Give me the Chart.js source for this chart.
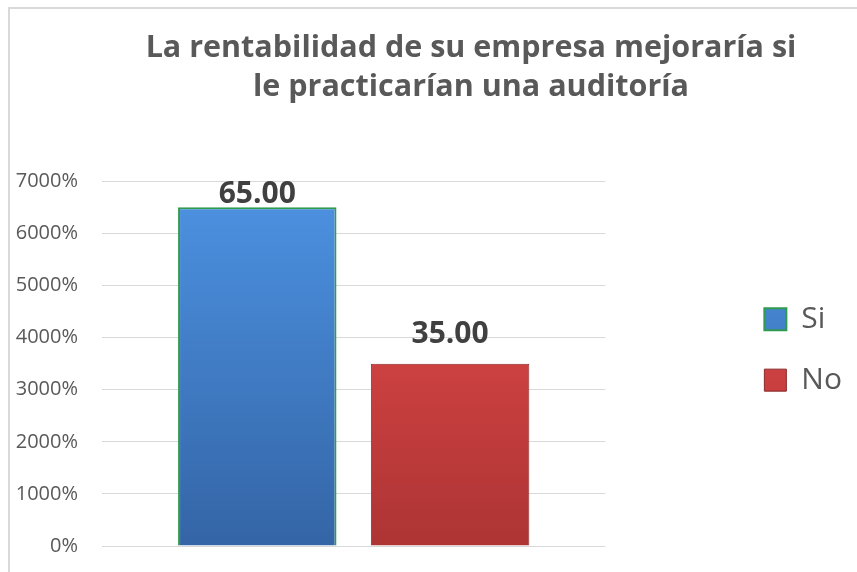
<!DOCTYPE html>
<html>
<head>
<meta charset="utf-8">
<script src="https://cdn.jsdelivr.net/npm/chart.js@4"></script>
<style>
  html, body { margin: 0; padding: 0; background: #fff; overflow: hidden; }
  #frame { position: absolute; left: 8px; top: 7px; width: 860px; height: 570px;
           border-left: 2px solid #d9d9d9; border-top: 2px solid #d9d9d9; }
  #wrap { position: absolute; left: 0; top: 0; width: 857px; height: 572px; }
</style>
</head>
<body>
<div id="frame"></div>
<div id="wrap"><canvas id="chart"></canvas></div>
<script>
const titleLines = ['La rentabilidad de su empresa mejoraría si', 'le practicarían una auditoría'];
const seriesNames = ['Si', 'No'];
const seriesValues = [65, 35];
const yTicks = [0, 10, 20, 30, 40, 50, 60, 70];

const textGray = '#595959';
const gridGray = '#d9d9d9';

function barGradient(top, bottom) {
    return function (context) {
        const area = context.chart.chartArea;
        if (!area) return bottom;
        const g = context.chart.ctx.createLinearGradient(0, area.top, 0, area.bottom);
        g.addColorStop(0, top);
        g.addColorStop(1, bottom);
        return g;
    };
}

// value labels above the bars, kept inside the plot like Excel does
const valueLabels = {
    id: 'valueLabels',
    afterDatasetsDraw(chart) {
        const c = chart.ctx;
        c.save();
        c.font = 'bold 30px "Open Sans"';
        c.fillStyle = '#404040';
        c.textAlign = 'center';
        c.textBaseline = 'alphabetic';
        chart.data.datasets.forEach((ds, i) => {
            const bar = chart.getDatasetMeta(i).data[0];
            const y = Math.max(bar.y - 21, chart.chartArea.top + 22);
            c.fillText(ds.data[0].toFixed(2), bar.x, y);
        });
        c.restore();
    }
};

// Excel centres the title over the frame and keeps the legend away from the plot
const nudgeBoxes = {
    id: 'nudgeBoxes',
    afterLayout(chart) {
        const t = chart.titleBlock;
        const dx = 471 - (t.left + t.right) / 2;
        t.left += dx; t.right += dx;
        const lg = chart.legend;
        const w = lg.right - lg.left;
        lg.left = chart.chartArea.right + 128;
        lg.right = lg.left + w;
        lg.top -= 14; lg.bottom -= 14;
    }
};

new Chart(document.getElementById('chart'), {
    type: 'bar',
    data: {
        labels: [''],
        datasets: [
            {
                label: seriesNames[0],
                data: [seriesValues[0]],
                backgroundColor: barGradient('#4d93e3', '#3465a6'),
                borderColor: '#2f9b4f',
                borderWidth: 2
            },
            {
                label: seriesNames[1],
                data: [seriesValues[1]],
                backgroundColor: barGradient('#ec4d4d', '#ad3434'),
                borderColor: '#8a2a2a',
                borderWidth: 1
            }
        ]
    },
    options: {
        responsive: true,
        maintainAspectRatio: false,
        animation: false,
        layout: { padding: { left: 14, right: 133, top: 0, bottom: 26 } },
        categoryPercentage: 0.766,
        barPercentage: 0.822,
        scales: {
            x: { display: false },
            y: {
                min: 0,
                max: 70,
                afterBuildTicks(scale) {
                    scale.ticks = yTicks.map(v => ({ value: v }));
                },
                afterFit(scale) {
                    scale.width = 88;
                    scale.paddingTop = 12;
                    scale.paddingBottom = 12;
                },
                grid: { color: gridGray, drawTicks: false },
                border: { display: false },
                ticks: {
                    padding: 24,
                    color: textGray,
                    font: { family: '"Open Sans"', size: 20 },
                    callback: v => (v * 100) + '%'
                }
            }
        },
        plugins: {
            title: {
                display: true,
                text: titleLines,
                color: textGray,
                font: { family: '"Open Sans"', size: 30.5, weight: 'bold', lineHeight: 1.3 },
                padding: { top: 28, bottom: 74 }
            },
            legend: {
                position: 'right',
                fullSize: false,
                labels: {
                    color: textGray,
                    font: { family: '"Open Sans"', size: 30 },
                    boxWidth: 22,
                    boxHeight: 22,
                    padding: 31
                }
            },
            tooltip: { enabled: false }
        }
    },
    plugins: [valueLabels, nudgeBoxes]
});
</script>
</body>
</html>
